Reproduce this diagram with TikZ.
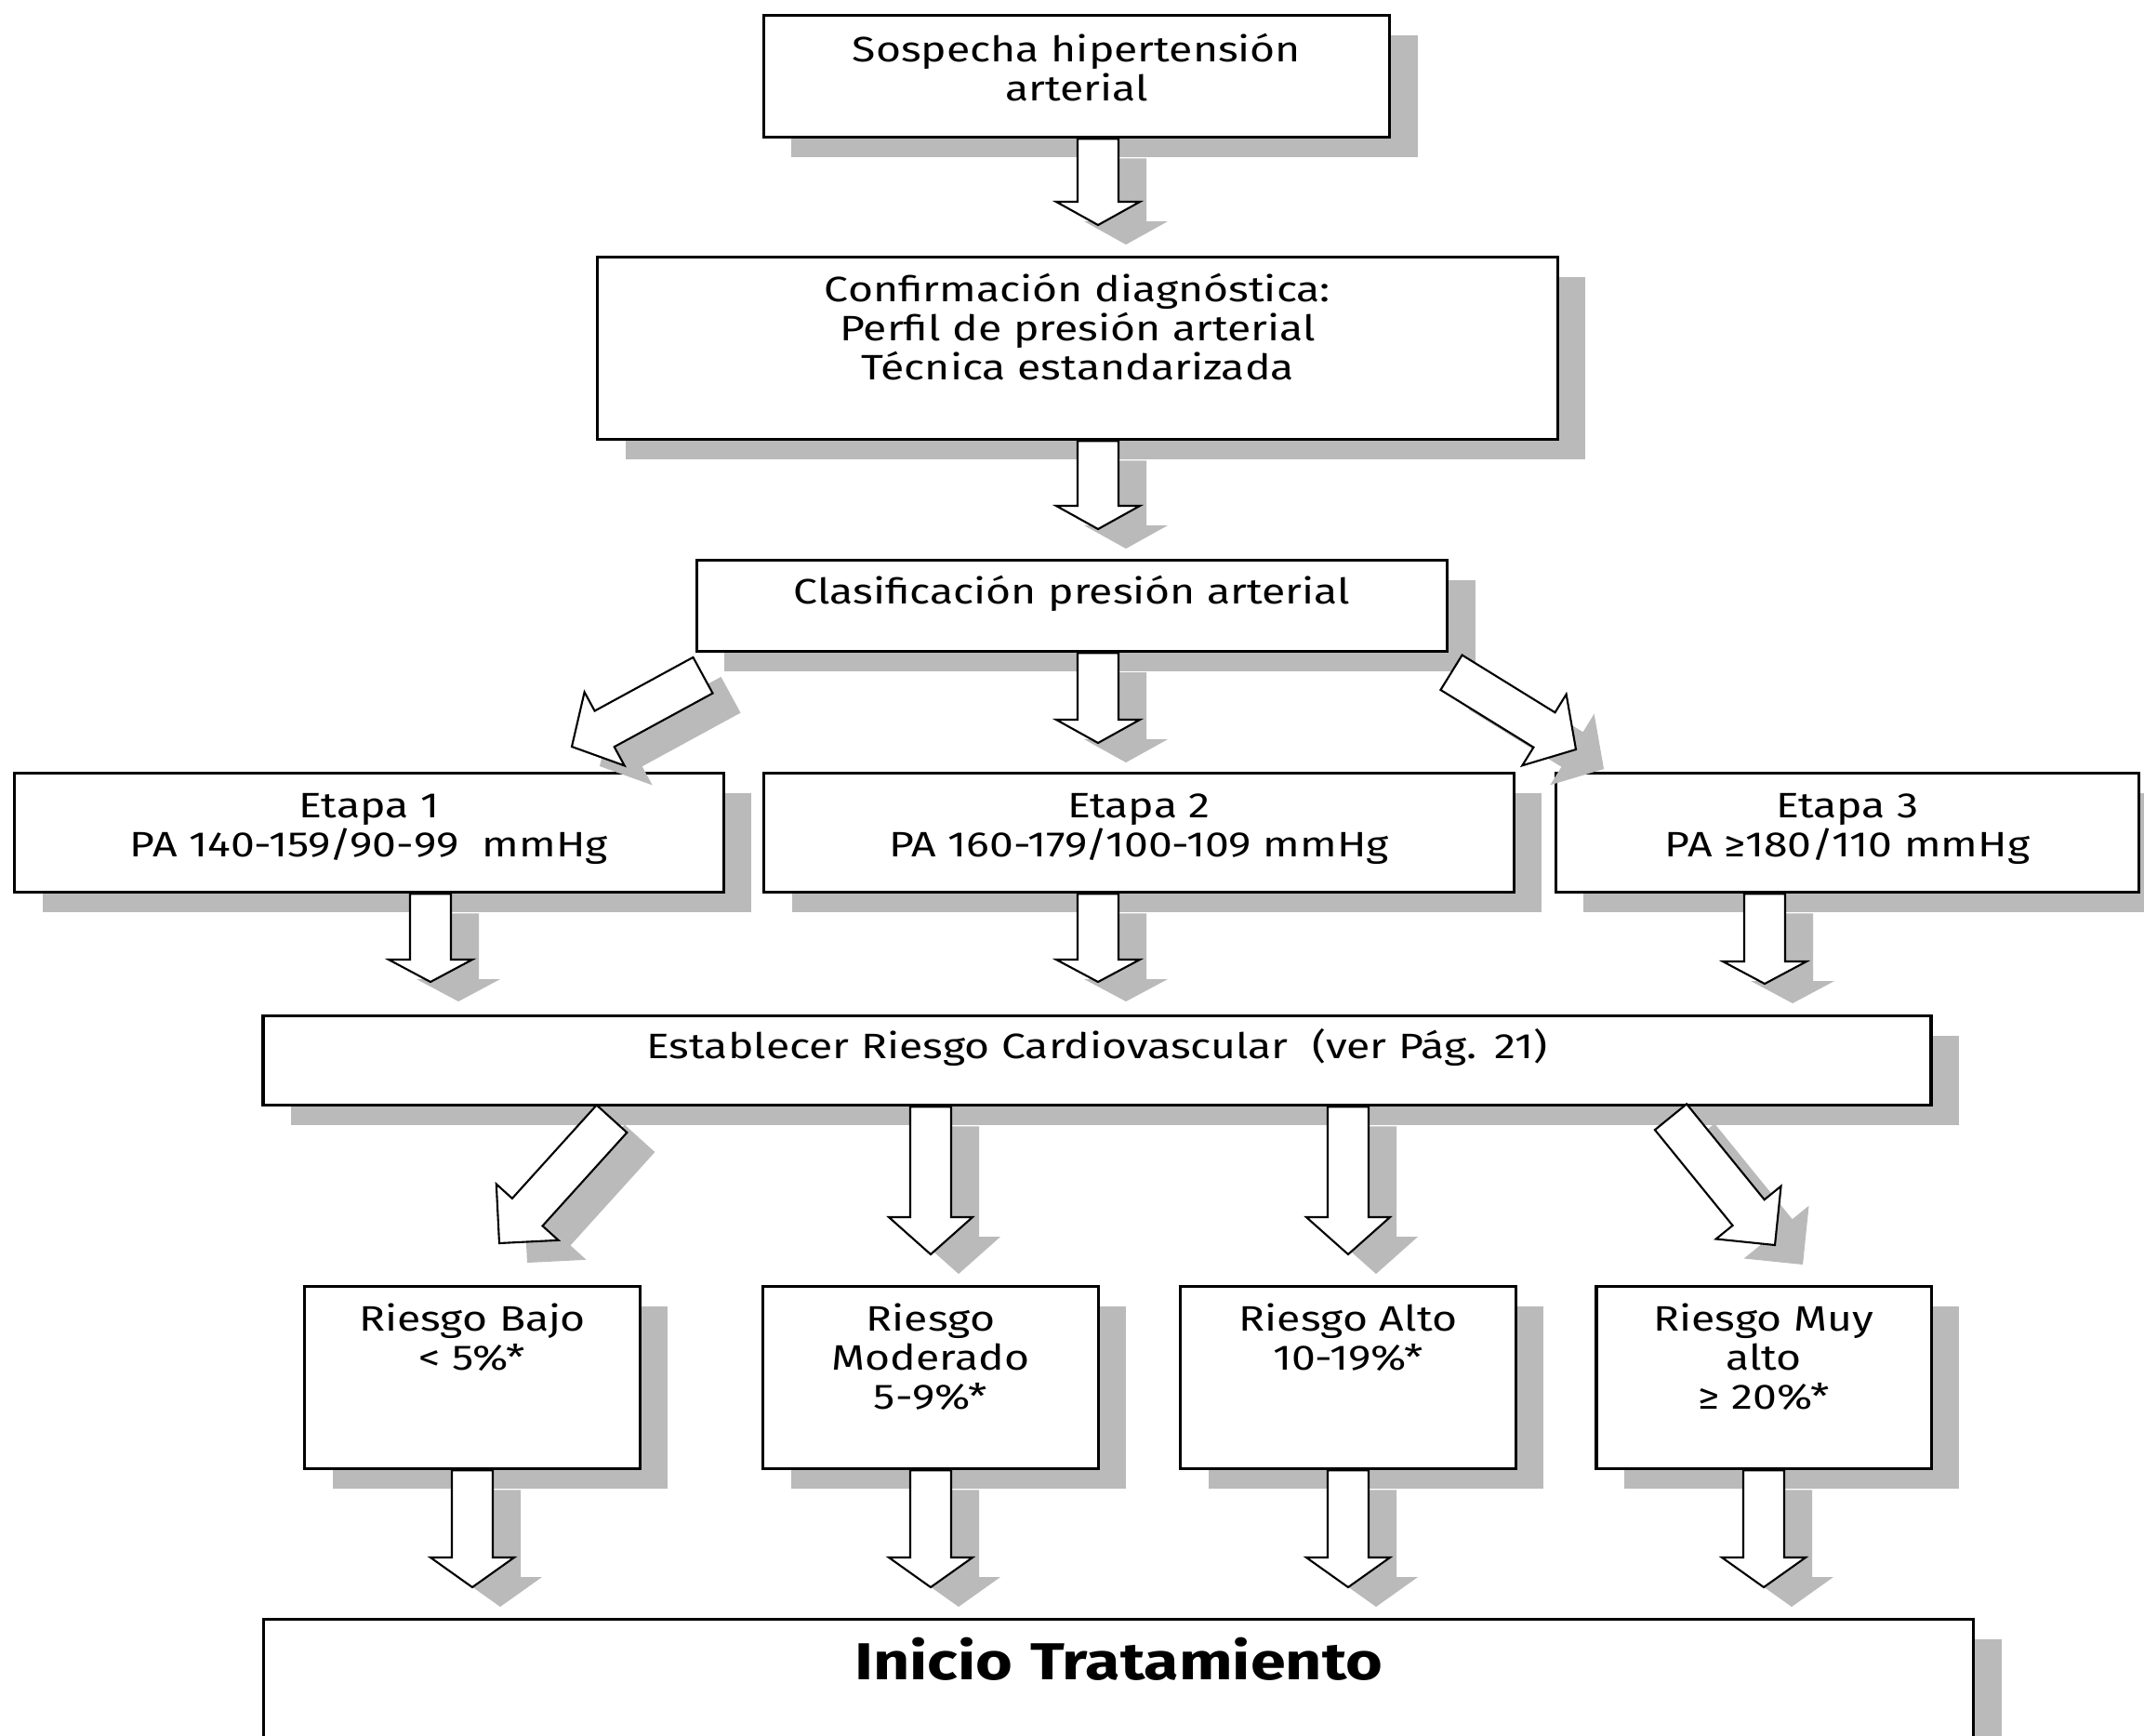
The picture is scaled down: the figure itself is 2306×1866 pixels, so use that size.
\documentclass[tikz,border=0pt]{standalone}
\usepackage{fontspec}
\setmainfont{Fira Sans}[FakeStretch=1.22]
\usetikzlibrary{calc,shadows}

\tikzset{
  box/.style={draw, fill=white, line width=0.9pt, anchor=north, align=center,
    inner sep=0pt, text height=0.48cm,
    drop shadow={shadow xshift=0.3cm, shadow yshift=-0.21cm, fill=black!27, opacity=1}},
  blockarrow/.style={draw, fill=white, line width=0.6pt, line join=miter,
    drop shadow={shadow xshift=0.3cm, shadow yshift=-0.21cm, fill=black!27, opacity=1}}
}

% Blockpfeil: #1 Spitzenlaenge, #2 Anfang, #3 Spitze
\newcommand{\bigarrow}[3][0.25cm]{%
  \coordinate (ah) at ($(#3)!#1!(#2)$);
  \path[blockarrow] ($(#2)!0.22cm!90:(#3)$) -- ($(ah)!0.22cm!-90:(#2)$)
    -- ($(ah)!0.45cm!-90:(#2)$) -- (#3) -- ($(ah)!0.45cm!90:(#2)$)
    -- ($(ah)!0.22cm!90:(#2)$) -- ($(#2)!0.22cm!-90:(#3)$) -- cycle;
}

\begin{document}
\begin{tikzpicture}[x=0.01cm, y=-0.01cm, font=\fontsize{10.8}{11.9}\selectfont]
        \clip (0,0) rectangle (2306,1866);

        % Kaesten
        \node[box, text width=6.73cm, text height=0.50cm, text depth=0.81cm] (sosp) at (1158,15)
        {Sospecha hipertensión\\arterial};
        \node[box, text width=10.32cm, text depth=1.48cm] (conf) at (1159,275)
        {Confirmación diagnóstica:\\Perfil de presión arterial\\Técnica estandarizada};
        \node[box, text width=8.07cm, text height=0.47cm, text depth=0.51cm] (clas) at (1153,601)
        {Clasificación presión arterial};

        \node[box, text width=7.62cm, text depth=0.80cm] (eta1) at (397,830)
        {Etapa 1\\PA 140-159/90-99~ mmHg};
        \node[box, text width=8.06cm, text depth=0.80cm] (eta2) at (1225,830)
        {Etapa 2\\PA 160-179/100-109 mmHg};
        \node[box, text width=6.27cm, text depth=0.80cm] (eta3) at (1987,830)
        {Etapa 3\\PA ≥180/110 mmHg};

        \node[box, text width=17.93cm, text height=0.46cm, text depth=0.50cm] (estab) at (1180,1091)
        {Establecer Riesgo Cardiovascular~ (ver Pág. 21)};

        \node[box, text width=3.6cm, text depth=1.48cm] (r1) at (508,1382) {Riesgo Bajo\\< 5\%*};
        \node[box, text width=3.6cm, text depth=1.48cm] (r2) at (1001,1382) {Riesgo\\Moderado\\5-9\%*};
        \node[box, text width=3.6cm, text depth=1.48cm] (r3) at (1450,1382) {Riesgo Alto\\10-19\%*};
        \node[box, text width=3.6cm, text depth=1.48cm] (r4) at (1897,1382) {Riesgo Muy\\alto\\≥ 20\%*};

        \node[box, text width=18.38cm, text height=0.65cm, text depth=2.4cm,
          font=\fontsize{15.9}{18}\selectfont\bfseries] (inicio) at (1203,1740) {Inicio Tratamiento};

        % Pfeile
        \coordinate (s1) at ($(sosp.south)+(23,0)$);
        \coordinate (t1) at ($(s1 |- conf.north)+(0,-33)$);
        \bigarrow{s1}{t1}
        \coordinate (s2) at ($(conf.south)+(22,0)$);
        \coordinate (t2) at ($(s2 |- clas.north)+(0,-32)$);
        \bigarrow{s2}{t2}
        \coordinate (s3) at ($(clas.south)+(28,0)$);
        \coordinate (t3) at ($(s3 |- eta2.north)+(0,-31)$);
        \bigarrow{s3}{t3}
        \coordinate (s4) at ($(clas.south)+(-397,24)$);
        \coordinate (t4) at ($(eta1.north)+(218,-27)$);
        \bigarrow[0.4cm]{s4}{t4}
        \coordinate (s5) at ($(clas.south)+(408,21)$);
        \coordinate (t5) at ($(eta3.north)+(-292,-24)$);
        \bigarrow[0.4cm]{s5}{t5}

        \coordinate (s6) at ($(eta1.south)+(66,0)$);
        \coordinate (t6) at ($(s6 |- estab.north)+(0,-35)$);
        \bigarrow[0.24cm]{s6}{t6}
        \coordinate (s7) at ($(eta2.south)+(-44,0)$);
        \coordinate (t7) at ($(s7 |- estab.north)+(0,-35)$);
        \bigarrow[0.24cm]{s7}{t7}
        \coordinate (s8) at ($(eta3.south)+(-89,0)$);
        \coordinate (t8) at ($(s8 |- estab.north)+(0,-33)$);
        \bigarrow[0.24cm]{s8}{t8}

        \coordinate (s9) at ($(estab.south)+(-522,13)$);
        \coordinate (t9) at ($(r1.north)+(29,-45)$);
        \bigarrow[0.45cm]{s9}{t9}
        \coordinate (s10) at (r2.north |- estab.south);
        \coordinate (t10) at ($(r2.north)+(0,-33)$);
        \bigarrow[0.4cm]{s10}{t10}
        \coordinate (s11) at (r3.north |- estab.south);
        \coordinate (t11) at ($(r3.north)+(0,-33)$);
        \bigarrow[0.4cm]{s11}{t11}
        \coordinate (s12) at ($(estab.south)+(617,11)$);
        \coordinate (t12) at ($(r4.north)+(12,-43)$);
        \bigarrow[0.45cm]{s12}{t12}

        \foreach \r in {r1,r2,r3,r4} {
          \coordinate (s\r) at (\r.south);
          \coordinate (t\r) at ($(\r.south |- inicio.north)+(0,-33)$);
          \bigarrow[0.32cm]{s\r}{t\r}
        }
\end{tikzpicture}
\end{document}
